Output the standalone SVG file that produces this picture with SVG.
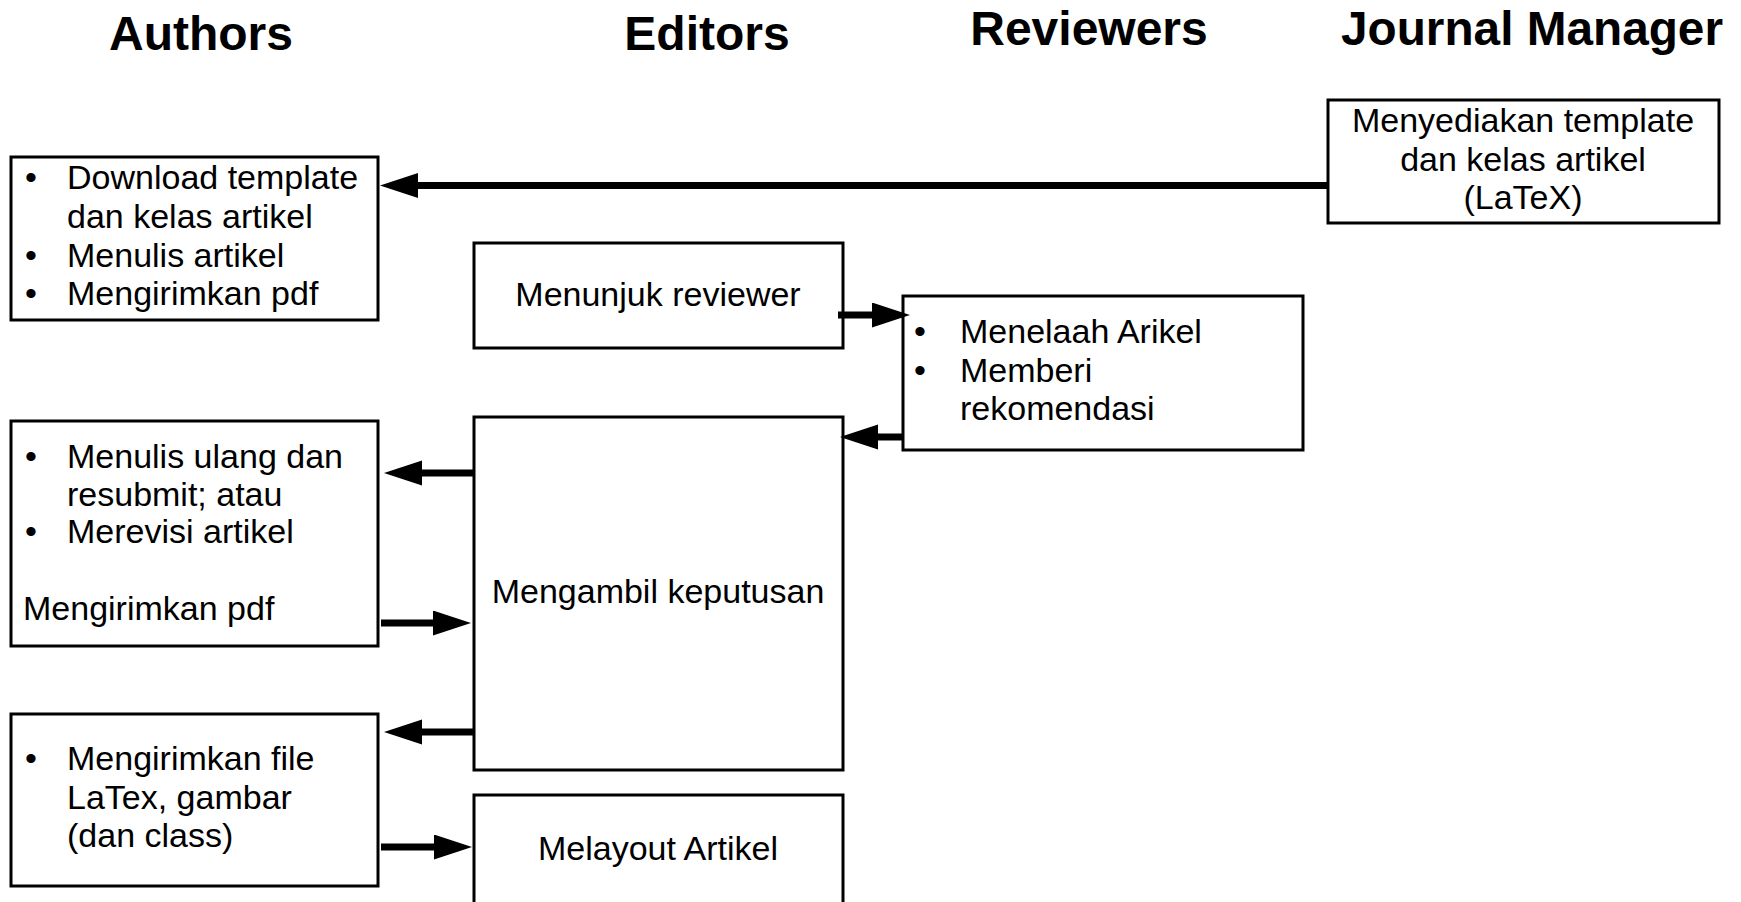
<svg xmlns="http://www.w3.org/2000/svg" width="1741" height="902" viewBox="0 0 1741 902">
<style>
.box{fill:#fff;stroke:#000;stroke-width:3}
.t{font-family:"Liberation Sans",Arial,sans-serif;font-size:34px;fill:#000}
.h{font-family:"Liberation Sans",Arial,sans-serif;font-size:48px;font-weight:bold;fill:#000}
.c{text-anchor:middle}
.ln{stroke:#000;stroke-width:7;fill:none}
</style>
<defs>
<marker id="ah" markerUnits="userSpaceOnUse" markerWidth="40" markerHeight="26" refX="0" refY="12.5" orient="auto">
<path d="M0,0 L38,12.5 L0,25 z" fill="#000"/>
</marker>
</defs>
<rect width="1741" height="902" fill="#fff"/>
<g id="titles">
<text class="h c" x="201" y="50">Authors</text>
<text class="h c" x="707" y="50">Editors</text>
<text class="h c" x="1089" y="45">Reviewers</text>
<text class="h c" x="1532" y="45" textLength="382" lengthAdjust="spacingAndGlyphs">Journal Manager</text>
</g>
<g id="author1">
<rect class="box" x="11" y="157" width="367" height="163"/>
<text class="t" x="25" y="189">•</text><text class="t" x="67" y="189">Download template</text>
<text class="t" x="67" y="228">dan kelas artikel</text>
<text class="t" x="25" y="267">•</text><text class="t" x="67" y="267">Menulis artikel</text>
<text class="t" x="25" y="305">•</text><text class="t" x="67" y="305">Mengirimkan pdf</text>
</g>
<g id="author2">
<rect class="box" x="11" y="421" width="367" height="225"/>
<text class="t" x="25" y="468">•</text><text class="t" x="67" y="468">Menulis ulang dan</text>
<text class="t" x="67" y="506">resubmit; atau</text>
<text class="t" x="25" y="543">•</text><text class="t" x="67" y="543">Merevisi artikel</text>
<text class="t" x="23" y="620">Mengirimkan pdf</text>
</g>
<g id="author3">
<rect class="box" x="11" y="714" width="367" height="172"/>
<text class="t" x="25" y="770">•</text><text class="t" x="67" y="770">Mengirimkan file</text>
<text class="t" x="67" y="809">LaTex, gambar</text>
<text class="t" x="67" y="847">(dan class)</text>
</g>
<g id="journal-manager">
<rect class="box" x="1328" y="100" width="391" height="123"/>
<text class="t c" x="1523" y="132">Menyediakan template</text>
<text class="t c" x="1523" y="171">dan kelas artikel</text>
<text class="t c" x="1523" y="209">(LaTeX)</text>
</g>
<g id="menunjuk">
<rect class="box" x="474" y="243" width="369" height="105"/>
<text class="t c" x="658" y="306">Menunjuk reviewer</text>
</g>
<g id="reviewer">
<rect class="box" x="903" y="296" width="400" height="154"/>
<text class="t" x="914" y="343">•</text><text class="t" x="960" y="343">Menelaah Arikel</text>
<text class="t" x="914" y="382">•</text><text class="t" x="960" y="382">Memberi</text>
<text class="t" x="960" y="420">rekomendasi</text>
</g>
<g id="mengambil">
<rect class="box" x="474" y="417" width="369" height="353"/>
<text class="t c" x="658" y="603">Mengambil keputusan</text>
</g>
<g id="melayout">
<rect class="box" x="474" y="795" width="369" height="130"/>
<text class="t c" x="658" y="860">Melayout Artikel</text>
</g>
<g id="connectors">
<line class="ln" x1="1327" y1="185.5" x2="418" y2="185.5" marker-end="url(#ah)"/>
<line class="ln" x1="838" y1="315" x2="872" y2="315" marker-end="url(#ah)"/>
<line class="ln" x1="903" y1="437" x2="878" y2="437" marker-end="url(#ah)"/>
<line class="ln" x1="474" y1="473" x2="422" y2="473" marker-end="url(#ah)"/>
<line class="ln" x1="381" y1="623" x2="433" y2="623" marker-end="url(#ah)"/>
<line class="ln" x1="474" y1="732" x2="422" y2="732" marker-end="url(#ah)"/>
<line class="ln" x1="381" y1="847" x2="434" y2="847" marker-end="url(#ah)"/>
</g>
</svg>
